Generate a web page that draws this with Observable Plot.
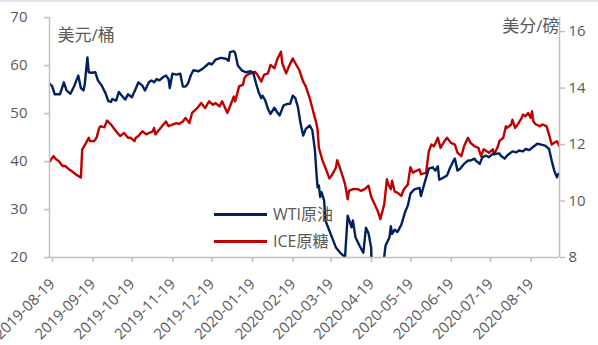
<!DOCTYPE html>
<html>
<head>
<meta charset="utf-8">
<script src="https://cdn.jsdelivr.net/npm/d3@7"></script>
<script src="https://cdn.jsdelivr.net/npm/@observablehq/plot@0.6"></script>
<style>
  html, body { margin: 0; padding: 0; background: #fff; }
  #wrap { position: relative; width: 598px; height: 345px; overflow: hidden; }
  #topband { position: absolute; left: 0; top: 0; width: 598px; height: 2px; background: #dce5f0; }
  .legend { position: absolute; left: 214px; top: 201px; font-family: "Open Sans", "Noto Sans CJK SC", sans-serif;
            font-size: 16px; color: #595959; line-height: 27px; }
  .legend .item { display: flex; align-items: center; height: 27px; }
  .legend .swatch { width: 53px; height: 2.5px; margin-right: 6px; }
</style>
</head>
<body>
<div id="wrap">
  <div id="chart"></div>
  <div id="topband"></div>
  <div class="legend" id="legend"></div>
</div>
<script>
// WTI crude oil, USD per barrel (left axis)
const wtiDates = ["2019-08-19","2019-08-21","2019-08-23","2019-08-27","2019-08-30","2019-09-01","2019-09-04","2019-09-07","2019-09-10","2019-09-12","2019-09-14","2019-09-15","2019-09-17","2019-09-18","2019-09-20","2019-09-23","2019-09-25","2019-09-28","2019-10-01","2019-10-03","2019-10-05","2019-10-06","2019-10-09","2019-10-11","2019-10-13","2019-10-16","2019-10-18","2019-10-21","2019-10-24","2019-10-26","2019-10-29","2019-10-31","2019-11-03","2019-11-05","2019-11-07","2019-11-09","2019-11-11","2019-11-14","2019-11-16","2019-11-18","2019-11-19","2019-11-21","2019-11-24","2019-11-27","2019-11-29","2019-12-01","2019-12-03","2019-12-05","2019-12-07","2019-12-11","2019-12-14","2019-12-17","2019-12-19","2019-12-21","2019-12-24","2019-12-28","2020-01-01","2020-01-03","2020-01-04","2020-01-07","2020-01-08","2020-01-10","2020-01-13","2020-01-16","2020-01-20","2020-01-22","2020-01-24","2020-01-26","2020-01-28","2020-01-29","2020-01-31","2020-02-02","2020-02-04","2020-02-07","2020-02-09","2020-02-11","2020-02-14","2020-02-17","2020-02-19","2020-02-21","2020-02-23","2020-02-25","2020-02-27","2020-02-29","2020-03-02","2020-03-05","2020-03-07","2020-03-09","2020-03-10","2020-03-11","2020-03-12","2020-03-13","2020-03-14","2020-03-16","2020-03-17","2020-03-19","2020-03-22","2020-03-25","2020-03-29","2020-04-01","2020-04-03","2020-04-06","2020-04-07","2020-04-09","2020-04-12","2020-04-15","2020-04-17","2020-04-19","2020-04-21","2020-04-22","2020-04-26","2020-04-29","2020-04-30","2020-05-02","2020-05-05","2020-05-06","2020-05-07","2020-05-09","2020-05-11","2020-05-14","2020-05-17","2020-05-19","2020-05-21","2020-05-24","2020-05-28","2020-05-29","2020-06-01","2020-06-04","2020-06-07","2020-06-09","2020-06-11","2020-06-12","2020-06-15","2020-06-18","2020-06-20","2020-06-23","2020-06-24","2020-06-26","2020-06-28","2020-07-01","2020-07-04","2020-07-06","2020-07-09","2020-07-10","2020-07-13","2020-07-15","2020-07-18","2020-07-20","2020-07-23","2020-07-25","2020-07-28","2020-07-29","2020-08-01","2020-08-03","2020-08-07","2020-08-10","2020-08-12","2020-08-15","2020-08-17","2020-08-20","2020-08-22","2020-08-26","2020-08-29","2020-09-01","2020-09-04","2020-09-06","2020-09-08","2020-09-10","2020-09-11","2020-09-12"];
const wtiPrices = [56.2,55.7,54.0,54.0,56.5,54.8,54.1,55.8,57.9,55.3,54.8,56.2,61.7,58.6,58.5,58.6,56.9,55.8,54.1,52.6,52.4,53.0,52.7,54.5,53.8,52.9,54.0,53.4,55.2,56.5,55.8,54.8,56.5,56.9,56.5,57.2,56.9,57.6,57.9,57.2,55.3,58.3,58.1,58.3,55.6,55.6,56.3,57.9,59.0,58.8,59.3,60.0,60.5,60.2,61.2,61.6,61.4,61.0,62.8,63.0,62.6,60.0,59.0,58.6,58.8,58.3,56.2,54.4,53.2,53.7,52.7,51.0,49.9,51.2,50.3,49.6,51.7,52.0,52.0,53.7,53.2,51.3,47.9,45.4,46.8,47.5,46.5,42.3,38.1,34.6,35.0,32.6,33.6,31.9,27.7,26.3,24.2,22.1,20.8,20.1,28.7,26.3,27.7,24.2,22.5,21.0,26.2,25.0,22.0,10,12,15,18,22.5,24.2,26.5,24.9,25.8,25.3,26.8,29.5,30.8,33.3,34.2,34.5,32.8,35.7,38.5,38.8,38.1,39.0,36.2,36.6,37.1,38.5,40.2,40.6,38.1,38.5,39.5,40.2,40.2,40.6,40.2,39.5,40.9,41.2,40.9,41.6,41.6,41.7,41.25,40.6,41.25,42.1,41.9,42.3,42.1,42.6,42.4,42.85,43.7,43.5,43.3,42.6,40.2,38.1,36.7,37.4,37.3];

// ICE raw sugar, US cents per pound (right axis)
const sugarDates = ["2019-08-19","2019-08-22","2019-08-24","2019-08-26","2019-08-29","2019-08-31","2019-09-03","2019-09-05","2019-09-08","2019-09-10","2019-09-12","2019-09-13","2019-09-16","2019-09-18","2019-09-19","2019-09-22","2019-09-24","2019-09-26","2019-09-27","2019-09-30","2019-10-02","2019-10-05","2019-10-07","2019-10-10","2019-10-12","2019-10-15","2019-10-18","2019-10-20","2019-10-23","2019-10-24","2019-10-26","2019-10-29","2019-11-01","2019-11-03","2019-11-06","2019-11-07","2019-11-08","2019-11-11","2019-11-13","2019-11-16","2019-11-18","2019-11-21","2019-11-24","2019-11-26","2019-11-29","2019-12-01","2019-12-04","2019-12-06","2019-12-10","2019-12-13","2019-12-16","2019-12-19","2019-12-22","2019-12-24","2019-12-27","2019-12-29","2020-01-02","2020-01-05","2020-01-07","2020-01-08","2020-01-11","2020-01-14","2020-01-15","2020-01-17","2020-01-20","2020-01-23","2020-01-25","2020-01-28","2020-01-30","2020-02-02","2020-02-04","2020-02-07","2020-02-09","2020-02-12","2020-02-13","2020-02-16","2020-02-18","2020-02-21","2020-02-23","2020-02-26","2020-02-29","2020-03-02","2020-03-05","2020-03-07","2020-03-10","2020-03-11","2020-03-12","2020-03-15","2020-03-17","2020-03-20","2020-03-22","2020-03-25","2020-03-26","2020-03-28","2020-03-30","2020-04-01","2020-04-03","2020-04-04","2020-04-07","2020-04-11","2020-04-13","2020-04-16","2020-04-19","2020-04-21","2020-04-23","2020-04-26","2020-04-28","2020-05-01","2020-05-03","2020-05-04","2020-05-06","2020-05-07","2020-05-09","2020-05-11","2020-05-14","2020-05-16","2020-05-19","2020-05-21","2020-05-23","2020-05-25","2020-05-28","2020-05-29","2020-06-02","2020-06-04","2020-06-06","2020-06-08","2020-06-11","2020-06-13","2020-06-16","2020-06-18","2020-06-21","2020-06-24","2020-06-26","2020-06-29","2020-07-01","2020-07-04","2020-07-06","2020-07-09","2020-07-12","2020-07-14","2020-07-16","2020-07-18","2020-07-20","2020-07-23","2020-07-24","2020-07-27","2020-07-28","2020-07-31","2020-08-02","2020-08-03","2020-08-06","2020-08-07","2020-08-09","2020-08-11","2020-08-14","2020-08-15","2020-08-17","2020-08-19","2020-08-21","2020-08-22","2020-08-23","2020-08-25","2020-08-28","2020-08-30","2020-09-02","2020-09-04","2020-09-06","2020-09-08","2020-09-10","2020-09-12"];
const sugarPrices = [11.39,11.59,11.48,11.42,11.24,11.24,11.12,11.06,10.95,10.89,10.83,11.83,12.06,12.24,12.12,12.12,12.24,12.59,12.65,12.61,12.85,12.71,12.59,12.41,12.30,12.41,12.24,12.24,12.12,12.24,12.30,12.47,12.36,12.41,12.47,12.59,12.36,12.53,12.65,12.82,12.65,12.71,12.76,12.73,12.82,12.94,12.76,13.12,13.29,13.47,13.29,13.53,13.41,13.47,13.35,13.53,13.12,13.47,13.70,13.53,14.06,14.12,14.35,14.47,14.52,14.58,14.47,14.23,14.47,14.52,14.82,14.70,15.0,15.29,14.88,14.52,14.76,15.05,14.88,14.64,14.23,14.06,13.64,13.29,12.76,12.53,11.88,11.4,11.18,10.8,10.92,11.18,11.45,11.18,10.9,10.6,10.06,10.36,10.42,10.42,10.36,10.42,10.54,10.15,9.95,9.65,9.36,9.89,10.77,10.6,10.42,10.72,10.33,10.30,10.18,10.42,10.58,11.2,11.0,11.06,11.12,10.95,11.0,11.75,12.0,11.94,12.24,11.88,12.12,12.24,12.06,12.0,11.71,11.59,11.94,12.24,12.06,11.94,11.88,11.59,11.83,11.77,11.71,11.83,11.65,11.94,12.12,12.24,12.65,12.59,12.71,12.88,12.59,12.71,12.94,13.06,13.0,13.12,12.94,13.18,12.82,12.71,12.65,12.71,12.65,12.36,12.0,12.06,12.12,11.94];

// Axis ticks
const leftTicks = [20, 30, 40, 50, 60, 70];
const rightTicks = [8, 10, 12, 14, 16];
const xTickDates = ["2019-08-19","2019-09-19","2019-10-19","2019-11-19","2019-12-19","2020-01-19","2020-02-19","2020-03-19","2020-04-19","2020-05-19","2020-06-19","2020-07-19","2020-08-19"];

// Series names and units
const seriesNames = ["WTI原油", "ICE原糖"];
const seriesColors = ["#002060", "#c00000"];
const leftUnit = "美元/桶";
const rightUnit = "美分/磅";

const leftDomain = [20, 70];
const rightDomain = [8, 16.5];
const xDomain = [new Date("2019-08-19"), new Date("2020-09-12")];

// The sugar series is plotted on the left y scale through this linear map
const toLeft = d3.scaleLinear(rightDomain, leftDomain);

const wti = wtiDates.map((d, i) => ({date: new Date(d), value: wtiPrices[i]}));
const sugar = sugarDates.map((d, i) => ({date: new Date(d), value: sugarPrices[i]}));

const axisColor = "#bfbfbf";
const textColor = "#595959";
const fmt = d3.utcFormat("%Y-%m-%d");

const chart = Plot.plot({
  width: 598,
  height: 345,
  marginLeft: 49,
  marginRight: 39,
  marginTop: 17,
  marginBottom: 88,
  style: {fontFamily: "'Open Sans', 'Noto Sans CJK SC', sans-serif", fontSize: "15px", color: textColor, background: "#fff"},
  x: {type: "utc", domain: xDomain},
  y: {domain: leftDomain},
  marks: [
    Plot.line(sugar, {x: "date", y: d => toLeft(d.value), stroke: seriesColors[1], strokeWidth: 2.4, clip: true}),
    Plot.line(wti, {x: "date", y: "value", stroke: seriesColors[0], strokeWidth: 2.4, clip: true}),
    // axis lines
    Plot.ruleX([xDomain[0]], {stroke: axisColor, strokeWidth: 1.5}),
    Plot.ruleX([xDomain[1]], {stroke: axisColor, strokeWidth: 1.5}),
    Plot.ruleY([leftDomain[0]], {stroke: axisColor, strokeWidth: 1.5}),
    Plot.axisY(leftTicks, {anchor: "left", tickSize: 5, tickPadding: 17, stroke: axisColor, strokeWidth: 1.5, fill: textColor, label: null}),
    Plot.axisY(rightTicks.map(v => toLeft(v)), {anchor: "right", tickSize: 5, tickPadding: 4, stroke: axisColor, strokeWidth: 1.5, fill: textColor,
      tickFormat: d => String(Math.round(toLeft.invert(d))), label: null}),
    Plot.axisX(xTickDates.map(d => new Date(d)), {anchor: "bottom", tickSize: 5, tickPadding: 19, dx: 3, tickRotate: -45, stroke: axisColor, strokeWidth: 1.5,
      fill: textColor, tickFormat: fmt, label: null}),
    // unit labels
    Plot.text([leftUnit], {frameAnchor: "top-left", dx: 8, dy: 18, textAnchor: "start", lineAnchor: "middle", fontSize: 17, fill: textColor}),
    Plot.text([rightUnit], {frameAnchor: "top-right", dx: 0, dy: 9, textAnchor: "end", lineAnchor: "middle", fontSize: 17, fill: textColor})
  ]
});
document.getElementById("chart").append(chart);

// legend
const legend = document.getElementById("legend");
seriesNames.forEach((name, i) => {
  const item = document.createElement("div");
  item.className = "item";
  const sw = document.createElement("span");
  sw.className = "swatch";
  sw.style.background = seriesColors[i];
  const label = document.createElement("span");
  label.textContent = name;
  item.append(sw, label);
  legend.append(item);
});
</script>
</body>
</html>
